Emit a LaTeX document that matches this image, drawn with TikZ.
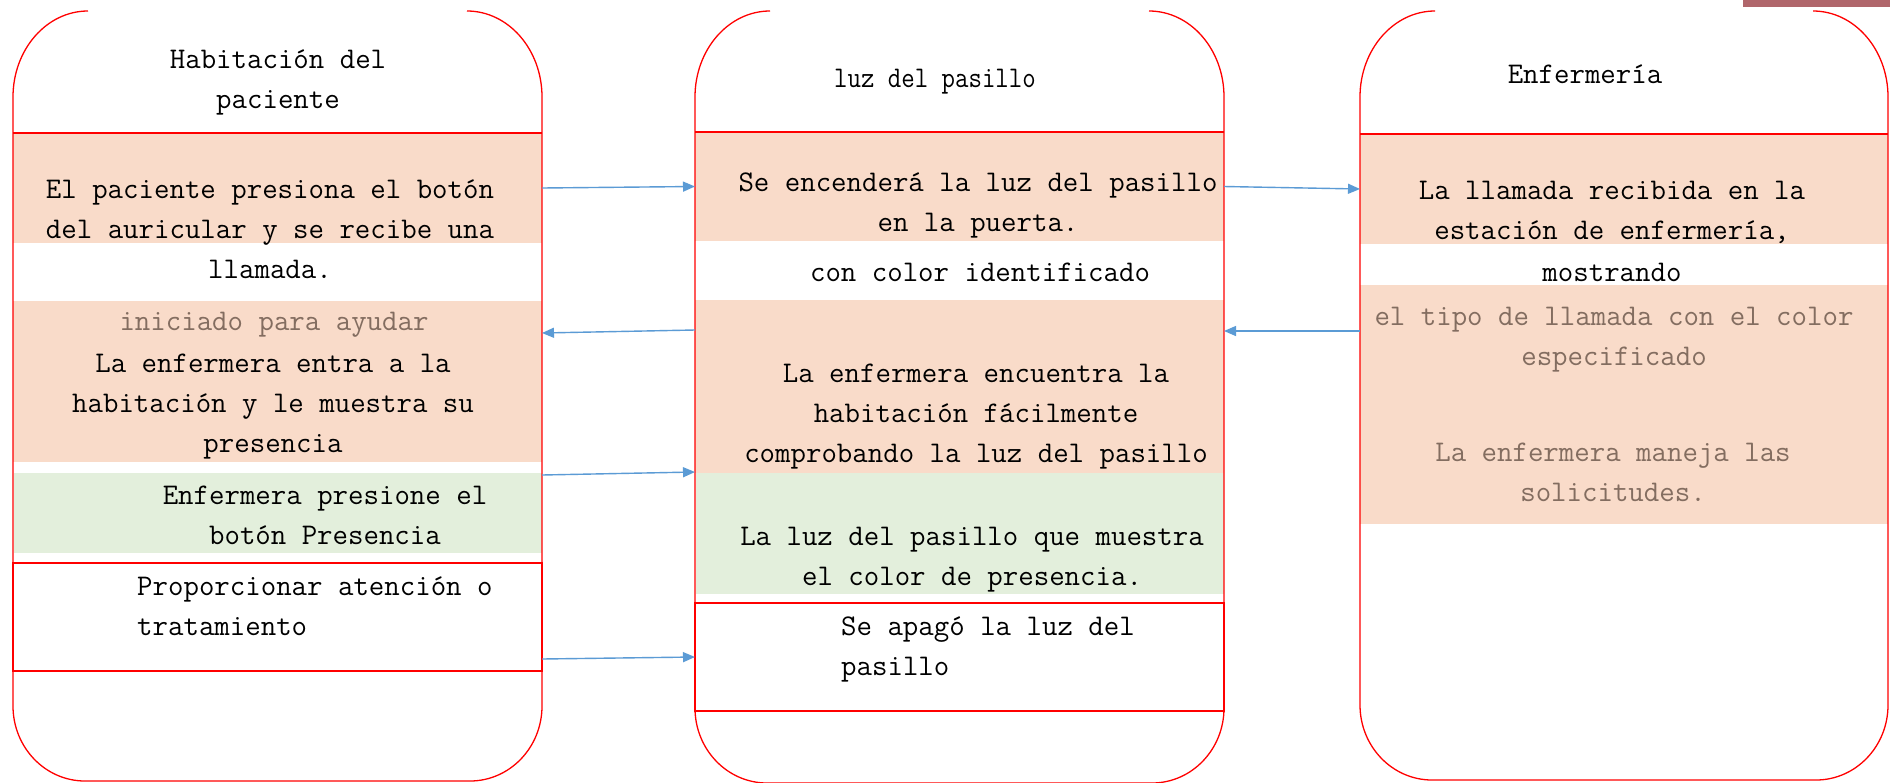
\documentclass[tikz,border=0pt]{standalone}
\usepackage{fontspec}
\usepackage{graphicx}
\usetikzlibrary{arrows.meta,calc,fit}
\definecolor{peach}{HTML}{F9DBC9}
\definecolor{mint}{HTML}{E3EFDC}
\definecolor{rline}{HTML}{FF0000}
\definecolor{arrowblue}{HTML}{5B9BD5}
\definecolor{greytext}{HTML}{836D60}
\definecolor{rosebar}{HTML}{B0666B}
\newcommand\colshape[3]{%
  \draw[outline] (#1+75,11) arc[start angle=270,end angle=180,x radius=75,y radius=86]
    -- (#1,#3-75) arc[start angle=180,end angle=90,x radius=72,y radius=75]
    -- (#2-72,#3) arc[start angle=90,end angle=0,x radius=72,y radius=75]
    -- (#2,97) arc[start angle=0,end angle=-90,x radius=75,y radius=86];}
\tikzset{
  outline/.style={draw=rline, line width=1.3pt},
  peachfill/.style={fill=peach, draw=none, inner sep=0pt, outer sep=0pt},
  mintfill/.style={fill=mint, draw=none, inner sep=0pt, outer sep=0pt},
  redbox/.style={draw=rline, line width=2.2pt, inner sep=0pt, outer sep=0pt},
  divider/.style={draw=rline, line width=1.5pt},
  txt/.style={font=\ttfamily\fontsize{30}{40}\selectfont, align=center, inner sep=0pt,
    execute at begin node=\strut, execute at end node=\strut, text=black, yshift=-5pt},
  greytxt/.style={txt, text=greytext},
  ltxt/.style={txt, align=left, anchor=west},
  flow/.style={draw=arrowblue, line width=1.4pt, -{Triangle[length=12pt,width=10pt]}}
}
\begin{document}
\begin{tikzpicture}[x=1pt,y=-1pt]
\useasboundingbox (0,0) rectangle (1890,782);
\fill[white] (0,0) rectangle (1890,782);
\fill[rosebar] (1743,0) rectangle (1890,7);

% ---- fills ----
\node[peachfill, fit={(13,133)(542,243)}] (lp1) {};
\node[peachfill, fit={(13,301)(542,462)}] (lp2) {};
\node[mintfill, fit={(14,473)(542,553)}] (lg) {};
\node[peachfill, fit={(695,132)(1224,241)}] (mp1) {};
\node[peachfill, fit={(695,300)(1224,473)}] (mp2) {};
\node[mintfill, fit={(696,473)(1224,594)}] (mg) {};
\node[peachfill, fit={(1360,134)(1888,244)}] (rp1) {};
\node[peachfill, fit={(1360,285)(1888,524)}] (rp2) {};

% ---- outlines ----
\colshape{13}{542}{781}
\colshape{695}{1224}{783}
\colshape{1360}{1888}{780}
\draw[divider] (13,133) -- (542,133);
\draw[divider] (695,132) -- (1224,132);
\draw[divider] (1360,134) -- (1888,134);
\node[redbox, fit={(13,563)(542,671)}] (lr) {};
\node[redbox, fit={(695,603)(1224,711)}] (mr) {};

% ---- texts ----
\node[txt] (lh) at (278,80) {Habitación del\\paciente};
\node[txt] (lt1) at (270,230) {El paciente presiona el botón\\del auricular y se recibe una\\llamada.};
\node[greytxt] (lt2a) at (274,317) {iniciado para ayudar};
\node[txt] (lt2b) at (273,404) {La enfermera entra a la\\habitación y le muestra su\\presencia};
\node[txt] (lt3) at (325,516) {Enfermera presione el\\botón Presencia};
\node[ltxt] (lt4) at (137,607) {Proporcionar atención o\\tratamiento};

\node[txt] (mh) at (935,74) {\scalebox{0.87}[1]{luz del pasillo}};
\node[txt] (mt1) at (978,203) {Se encenderá la luz del pasillo\\en la puerta.};
\node[txt] (mt1b) at (980,268) {con color identificado};
\node[txt] (mt2) at (976,414) {La enfermera encuentra la\\habitación fácilmente\\comprobando la luz del pasillo};
\node[txt] (mt3) at (972,557) {La luz del pasillo que muestra\\el color de presencia.};
\node[ltxt] (mt4) at (841,647) {Se apagó la luz del\\pasillo};

\node[txt] (rh) at (1585,70) {Enfermería};
\node[txt] (rt1) at (1612,211) {La llamada recibida en la\\estación de enfermería,};
\node[txt] (rt1b) at (1612,268) {mostrando};
\node[greytxt] (rt2) at (1614,337) {el tipo de llamada con el color\\especificado};
\node[greytxt] (rt3) at (1613,473) {La enfermera maneja las\\solicitudes.};

% ---- connectors ----
\draw[flow] (lp1.east) -- (mp1.west);
\draw[flow] (mp1.east) -- (rp1.west);
\draw[flow] ($(rp2.north west)+(0,46)$) -- ($(mp2.north east)+(0,31)$);
\draw[flow] ($(mp2.north west)+(0,30)$) -- ($(lp2.north east)+(0,32)$);
\draw[flow] ($(lg.north east)+(0,2)$) -- ($(mg.north west)+(-1,-1)$);
\draw[flow] ($(lr.north east)+(0,96)$) -- ($(mr.north west)+(0,54)$);
\end{tikzpicture}
\end{document}
